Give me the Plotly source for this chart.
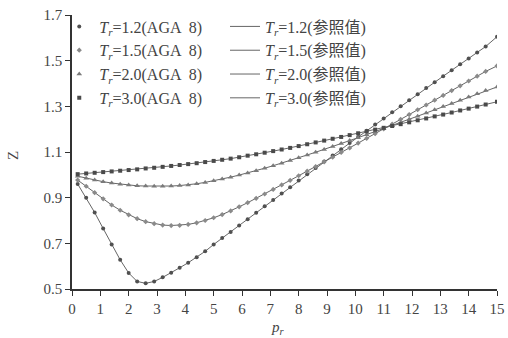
import plotly.graph_objects as go

PR = [0.2, 0.5, 0.8, 1.1, 1.4, 1.7, 2.0, 2.3, 2.6, 2.9, 3.2, 3.5, 3.8, 4.1, 4.4, 4.7,
      5.0, 5.3, 5.6, 5.9, 6.2, 6.5, 6.8, 7.1, 7.4, 7.7, 8.0, 8.3, 8.6, 8.9, 9.2, 9.5,
      9.8, 10.1, 10.4, 10.7, 11.0, 11.3, 11.6, 11.9, 12.2, 12.5, 12.8, 13.1, 13.4,
      13.7, 14.0, 14.3, 14.6, 15.0]

Z_TR12 = [0.960, 0.900, 0.835, 0.765, 0.695, 0.628, 0.570, 0.533, 0.525, 0.533, 0.551,
          0.571, 0.593, 0.615, 0.639, 0.665, 0.695, 0.723, 0.750, 0.778, 0.806, 0.834,
          0.862, 0.890, 0.918, 0.946, 0.975, 1.003, 1.030, 1.058, 1.085, 1.112, 1.139,
          1.166, 1.193, 1.220, 1.247, 1.274, 1.300, 1.327, 1.353, 1.380, 1.406, 1.432,
          1.458, 1.484, 1.510, 1.536, 1.562, 1.605]

Z_TR15 = [0.977, 0.950, 0.922, 0.895, 0.868, 0.845, 0.825, 0.808, 0.795, 0.786, 0.780,
          0.778, 0.779, 0.783, 0.790, 0.800, 0.812, 0.826, 0.842, 0.860, 0.878, 0.897,
          0.916, 0.936, 0.956, 0.976, 0.996, 1.016, 1.036, 1.057, 1.077, 1.098, 1.118,
          1.139, 1.160, 1.180, 1.201, 1.222, 1.243, 1.264, 1.285, 1.306, 1.327, 1.348,
          1.369, 1.390, 1.411, 1.432, 1.453, 1.477]

Z_TR20 = [0.994, 0.985, 0.977, 0.970, 0.964, 0.959, 0.955, 0.952, 0.951, 0.950, 0.950,
          0.951, 0.953, 0.956, 0.961, 0.967, 0.974, 0.982, 0.990, 0.999, 1.008, 1.018,
          1.029, 1.040, 1.051, 1.063, 1.075, 1.087, 1.099, 1.111, 1.124, 1.137, 1.150,
          1.163, 1.176, 1.189, 1.202, 1.215, 1.229, 1.243, 1.257, 1.271, 1.285, 1.299,
          1.313, 1.327, 1.341, 1.355, 1.369, 1.385]

Z_TR30 = [1.003, 1.006, 1.009, 1.012, 1.015, 1.018, 1.021, 1.024, 1.028, 1.031, 1.035,
          1.039, 1.043, 1.047, 1.051, 1.056, 1.061, 1.066, 1.071, 1.077, 1.084, 1.090,
          1.097, 1.104, 1.111, 1.118, 1.126, 1.134, 1.142, 1.150, 1.158, 1.166, 1.174,
          1.182, 1.190, 1.198, 1.206, 1.214, 1.222, 1.230, 1.239, 1.247, 1.256, 1.264,
          1.273, 1.282, 1.290, 1.299, 1.308, 1.320]

TR_LABELS = ["1.2", "1.5", "2.0", "3.0"]
SERIES = [Z_TR12, Z_TR15, Z_TR20, Z_TR30]
MARKER_SYMBOLS = ["circle", "diamond", "triangle-up", "square"]
MARKER_SIZES = [4, 4, 5, 4]
MARKER_COLORS = ["#505050", "#8a8a8a", "#7a7a7a", "#4a4a4a"]
LINE_COLOR = "#666666"

X_TICKS = list(range(0, 16))
Y_TICKS = [0.5, 0.7, 0.9, 1.1, 1.3, 1.5, 1.7]

FONT = "Liberation Serif, Times New Roman, serif"
CJK = "Liberation Serif, Noto Sans CJK SC, serif"
TXT = "#444444"

fig = go.Figure()

for lab, z in zip(TR_LABELS, SERIES):
    fig.add_trace(go.Scatter(
        x=PR, y=z, mode="lines",
        line=dict(color=LINE_COLOR, width=1),
        name=f"<i>T<sub>r</sub></i>={lab}(参照值)",
        legend="legend2",
    ))

for lab, z, sym, sz, col in zip(TR_LABELS, SERIES, MARKER_SYMBOLS, MARKER_SIZES, MARKER_COLORS):
    fig.add_trace(go.Scatter(
        x=PR, y=z, mode="markers",
        marker=dict(symbol=sym, size=sz, color=col, line=dict(width=0)),
        name=f"<i>T<sub>r</sub></i>={lab}(AGA  8)",
        legend="legend",
    ))

fig.update_layout(
    width=508, height=338,
    margin=dict(l=72, r=11, t=15, b=49, autoexpand=False),
    paper_bgcolor="white", plot_bgcolor="white",
    font=dict(family=FONT, size=15, color=TXT),
    legend=dict(x=-0.03, y=1.02, xanchor="left", yanchor="top",
                bgcolor="rgba(0,0,0,0)", font=dict(family=CJK, size=16, color=TXT),
                itemwidth=30, tracegroupgap=0, itemclick=False),
    legend2=dict(x=0.36, y=1.02, xanchor="left", yanchor="top",
                 bgcolor="rgba(0,0,0,0)", font=dict(family=CJK, size=16, color=TXT),
                 itemwidth=30, tracegroupgap=0, itemclick=False),
    xaxis=dict(range=[0, 15], tickvals=X_TICKS, ticktext=[str(v) for v in X_TICKS],
               showline=True, linecolor="#333333", linewidth=1.5,
               ticks="outside", ticklen=5, tickcolor="#333333", tickwidth=1.2,
               showgrid=False, zeroline=False,
               tickfont=dict(family=FONT, size=15, color=TXT)),
    yaxis=dict(range=[0.5, 1.7001], tickvals=Y_TICKS, ticktext=[f"{v:.1f}" for v in Y_TICKS],
               showline=True, linecolor="#333333", linewidth=1.5,
               ticks="outside", ticklen=5, tickcolor="#333333", tickwidth=1.2,
               showgrid=False, zeroline=False,
               tickfont=dict(family=FONT, size=15, color=TXT)),
    annotations=[
        dict(text="<i>p<sub>r</sub></i>", xref="paper", yref="paper",
             x=0.485, y=-0.142, xanchor="center", yanchor="middle", showarrow=False,
             font=dict(family=FONT, size=15, color=TXT)),
        dict(text="Z", xref="paper", yref="paper", textangle=-90,
             x=-0.139, y=0.489, xanchor="center", yanchor="middle", showarrow=False,
             font=dict(family=FONT, size=15, color=TXT)),
    ],
)

fig.write_html(
    "out.html",
    config={"displayModeBar": False},
    post_script="document.body.style.margin='0';document.body.style.overflow='hidden';",
)
